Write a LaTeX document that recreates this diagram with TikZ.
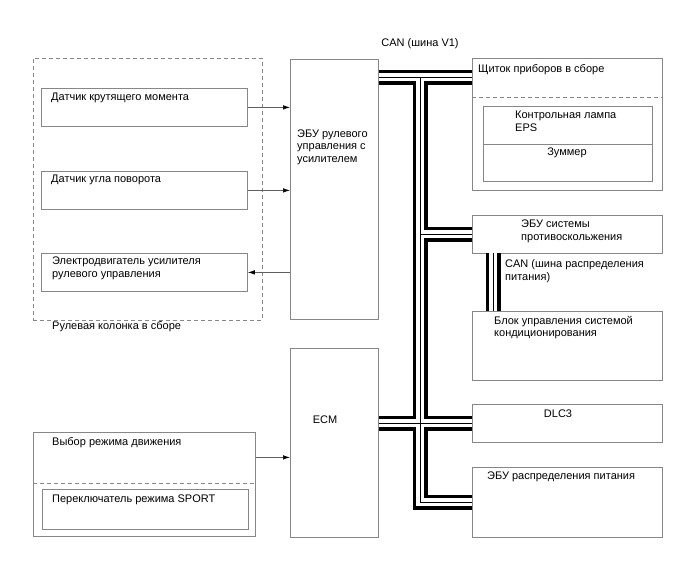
\documentclass[tikz,border=0pt]{standalone}
\usepackage{fontspec}
\setmainfont{Liberation Sans}
\usetikzlibrary{arrows.meta, positioning}
\definecolor{framegray}{RGB}{135,135,135}

\begin{document}
\begin{tikzpicture}[
  x=1pt, y=-1pt,
  every node/.style={font=\fontsize{11}{12.7}\selectfont},
  unit/.style 2 args={
    draw=framegray, line width=0.8pt, fill=white, anchor=north west,
    inner sep=0pt, minimum width=#1pt, minimum height=#2pt
  },
  grp/.style 2 args={
    unit={#1}{#2}, fill=none, dashed, dash pattern=on 4pt off 3pt
  },
  divider/.style={draw=framegray, line width=0.8pt, dash pattern=on 4pt off 3pt},
  txt/.style={anchor=west, align=left, inner sep=0pt, text=black},
  sig/.style={draw=framegray!70!black, line width=0.7pt,
    -{Latex[length=7pt, width=4.5pt, color=black]}}
]
  \useasboundingbox (0,0) rectangle (688,560);

  % Рулевая колонка (группа слева)
  \node[grp={229}{262}] (column) at (33,58) {};
  \node[unit={206}{38}] (torque) at (41,88) {};
  \node[unit={206}{38}] (angle) at (41,171) {};
  \node[unit={206}{38}] (motor) at (41,253) {};

  % Блоки ЭБУ
  \node[unit={88}{260}] (eps) at (290,59) {};
  \node[unit={88}{189}] (ecm) at (290,348) {};

  % Выбор режима движения
  \node[unit={222}{104}] (drive) at (33,432) {};
  \node[unit={206}{40}] (sport) at (42,489) {};
  \draw[divider] ([yshift=-51pt]drive.north west) -- ([yshift=-51pt]drive.north east);

  % Правая колонна
  \node[unit={190}{132}] (cluster) at (472,58) {};
  \draw[divider] ([yshift=-39pt]cluster.north west) -- ([yshift=-39pt]cluster.north east);
  \node[unit={169}{75}] (lamp) at (483,106) {};
  \draw[framegray, line width=0.8pt] ([yshift=-38pt]lamp.north west) -- ([yshift=-38pt]lamp.north east);
  \node[unit={190}{38}] (abs) at (472,215) {};
  \node[unit={190}{69}] (ac) at (472,311) {};
  \node[unit={190}{38}] (dlc) at (472,404) {};
  \node[unit={190}{70}] (power) at (472,467) {};

  % Сигнальные линии
  \draw[sig] (torque.east) -- (torque.east -| eps.west);
  \draw[sig] (angle.east) -- (angle.east -| eps.west);
  \draw[sig] (motor.east -| eps.west) -- (motor.east);
  \draw[sig] ([yshift=27pt]drive.east) -- ([yshift=27pt]drive.east -| ecm.west);

  % Шина CAN (три слоя: контур, просвет, осевая)
  \coordinate (jtop) at (420,77);
  \coordinate (jabs) at (420,234);
  \coordinate (jdlc) at (420,423);
  \coordinate (jpwr) at (420,502);
  \coordinate (jsub) at (493,253);
  \foreach \w/\c in {15pt/black, 8pt/white, 1pt/black} {
    \draw[line width=\w, \c] (eps.east |- jtop) -- (cluster.west |- jtop);
    \draw[line width=\w, \c] (jtop) -- (jpwr) -- (power.west |- jpwr);
    \draw[line width=\w, \c] (jabs) -- (abs.west |- jabs);
    \draw[line width=\w, \c] (ecm.east |- jdlc) -- (dlc.west |- jdlc);
    \draw[line width=\w, \c] (jsub) -- (ac.north -| jsub);
  }

  % Надписи
  \node[txt] (torque-t) at (51,98) {Датчик крутящего момента};
  \node[txt] (angle-t) at (51,180) {Датчик угла поворота};
  \node[txt] (motor-t) at (52,268) {Электродвигатель усилителя\\рулевого управления};
  \node[txt] (column-t) at (52,327) {Рулевая колонка в сборе};
  \node[txt] (eps-t) at (297,147) {ЭБУ рулевого\\управления с\\усилителем};
  \node[txt, anchor=center] (ecm-t) at (325,420) {ECM};
  \node[txt] (drive-t) at (52,443) {Выбор режима движения};
  \node[txt] (sport-t) at (52,500) {Переключатель режима SPORT};
  \node[txt] (cluster-t) at (478,70) {Щиток приборов в сборе};
  \node[txt] (lamp-t) at (515,121) {Контрольная лампа\\EPS};
  \node[txt, anchor=center] (buzzer-t) at (567,153) {Зуммер};
  \node[txt] (abs-t) at (521,231.5) {ЭБУ системы\\противоскольжения};
  \node[txt] (subcan-t) at (505,271) {CAN (шина распределения\\питания)};
  \node[txt] (ac-t) at (494,327.5) {Блок управления системой\\кондиционирования};
  \node[txt, anchor=center] (dlc-t) at (558,414) {DLC3};
  \node[txt] (power-t) at (487,477) {ЭБУ распределения питания};
  \node[txt, anchor=center] (can-t) at (420,44) {CAN (шина V1)};
\end{tikzpicture}
\end{document}
